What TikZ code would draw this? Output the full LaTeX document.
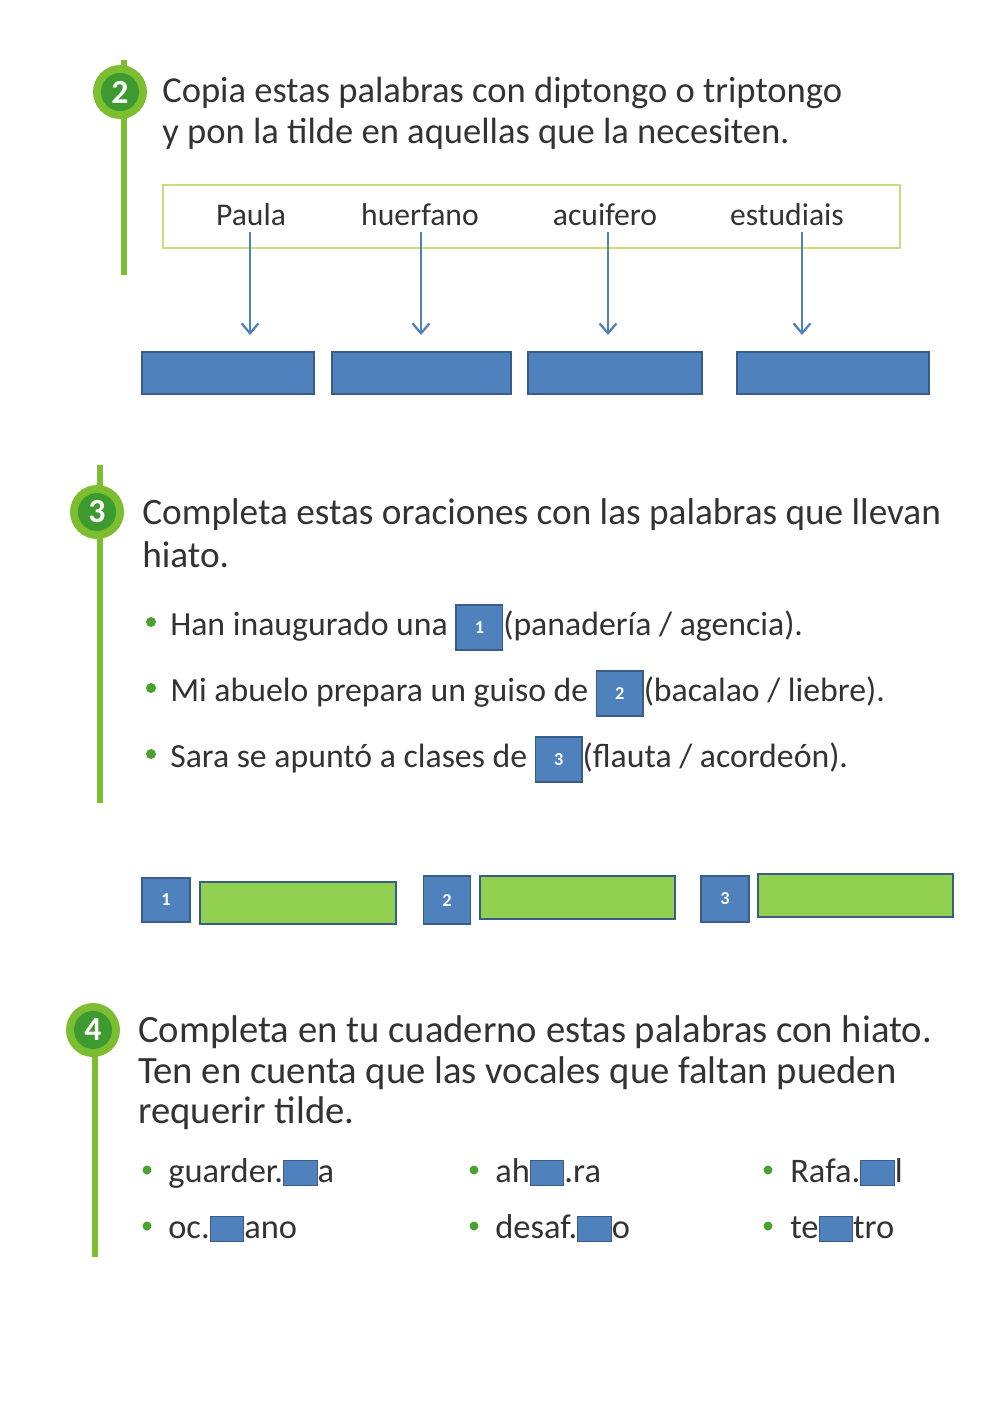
\documentclass[tikz,border=0pt]{standalone}
\usepackage{fontspec}
\setmainfont{Carlito}
\usetikzlibrary{positioning,arrows.meta}
\definecolor{leaf}{HTML}{7DBE31}
\definecolor{darkleaf}{HTML}{3C9A2F}
\definecolor{boxblue}{HTML}{4F81BD}
\definecolor{boxedge}{HTML}{385D8A}
\definecolor{fillgreen}{HTML}{92D050}
\definecolor{framegreen}{HTML}{C4E07A}
\definecolor{ink}{HTML}{333333}
\newcommand{\gap}{{\setlength\fboxsep{0pt}\setlength\fboxrule{0.8pt}\raisebox{-2pt}{\fcolorbox{boxedge}{boxblue}{\rule{0pt}{17pt}\hspace{23pt}}}}}
\newcommand{\numgap}[1]{{\setlength\fboxsep{0pt}\setlength\fboxrule{1pt}\raisebox{-1pt}{\fcolorbox{boxedge}{boxblue}{\parbox[c][31pt][c]{32pt}{\centering\color{white}\bfseries\fontsize{13}{13}\selectfont #1}}}}}
\tikzset{
  txt/.style={anchor=base west,inner sep=0pt,text=ink,font=\fontsize{#1}{28}\selectfont},
  txt/.default=24.5,
  word/.style={inner sep=0pt,text=ink,font=\fontsize{22.5}{26}\selectfont},
  bluebox/.style={draw=boxedge,fill=boxblue,line width=1pt},
  greenbox/.style={draw=boxedge,fill=fillgreen,line width=1pt},
  numbox/.style={bluebox,text=white,font=\bfseries\fontsize{13}{13}\selectfont},
  bar/.style={draw=leaf,line width=4.5pt},
  dot/.style={fill=darkleaf!80!leaf,draw=none},
  arr/.style={draw=boxblue,line width=1.6pt,-{Straight Barb[length=7pt,width=12pt]}}
}
\newcommand{\badge}[3]{%
  \fill[leaf] (#1,#2) circle (27);
  \fill[darkleaf] (#1,#2) circle (19);
  \node[text=white,font=\bfseries\fontsize{24}{24}\selectfont] at (#1,#2) {#3};}
\begin{document}
\begin{tikzpicture}[x=0.025cm,y=-0.025cm]
\useasboundingbox[fill=white] (0,0) rectangle (1000,1413);
% section 2
\draw[bar] (124,60) -- (124,275);
\badge{120}{92}{2}
\node[txt=26] (t2a) at (162,103) {Copia estas palabras con diptongo o triptongo};
\node[txt=26] (t2b) at (162,143) {y pon la tilde en aquellas que la necesiten.};
\draw[framegreen,line width=2pt] (163,185) rectangle (900,248);
\node[word] (paula) at (251,215) {Paula};
\node[word] (huerfano) at (420,215) {huerfano};
\node[word] (acuifero) at (605,215) {acuifero};
\node[word] (estudiais) at (787,215) {estudiais};
\coordinate (e1) at (250,335);
\coordinate (e2) at (421,335);
\coordinate (e3) at (608,335);
\coordinate (e4) at (802,335);
\draw[arr] (paula.south -| e1) ++(0,6) -- (e1);
\draw[arr] (huerfano.south -| e2) ++(0,6) -- (e2);
\draw[arr] (acuifero.south -| e3) ++(0,6) -- (e3);
\draw[arr] (estudiais.south -| e4) ++(0,6) -- (e4);
\draw[bluebox] (142,352) rectangle (314,394);
\draw[bluebox] (332,352) rectangle (511,394);
\draw[bluebox] (528,352) rectangle (702,394);
\draw[bluebox] (737,352) rectangle (929,394);
% section 3
\draw[bar] (100,465) -- (100,803);
\badge{97}{512}{3}
\node[txt=26.5] (t3a) at (142,524) {Completa estas oraciones con las palabras que llevan};
\node[txt=26.5] (t3b) at (142,567) {hiato.};
\foreach \y in {622,688,754} \fill[dot] (151,\y) circle (5);
\node[txt=24] (s1) at (170,635) {Han inaugurado una \numgap{1}(panadería / agencia).};
\node[txt=24] (s2) at (170,701) {Mi abuelo prepara un guiso de \numgap{2}(bacalao / liebre).};
\node[txt=24] (s3) at (170,767) {Sara se apuntó a clases de \numgap{3}(flauta / acordeón).};
\node[numbox,minimum width=48*0.025cm,minimum height=44*0.025cm] (n1) at (166,900) {1};
\draw[greenbox] (200,882) rectangle (396,924);
\node[numbox,minimum width=47*0.025cm,minimum height=48*0.025cm] (n2) at (447,900) {2};
\draw[greenbox] (480,876) rectangle (675,919);
\node[numbox,minimum width=48*0.025cm,minimum height=46*0.025cm] (n3) at (725,899) {3};
\draw[greenbox] (758,874) rectangle (953,917);
% section 4
\draw[bar] (95,1010) -- (95,1257);
\badge{93}{1030}{4}
\node[txt=27.5] (t4a) at (138,1042) {Completa en tu cuaderno estas palabras con hiato.};
\node[txt=27.5] (t4b) at (138,1083) {Ten en cuenta que las vocales que faltan pueden};
\node[txt=27.5] (t4c) at (138,1123) {requerir tilde.};
\foreach \x in {147,474,768} \foreach \y in {1170,1226} \fill[dot] (\x,\y) circle (4.5);
\node[txt] (w1) at (168,1182) {guarder.\gap a};
\node[txt] (w2) at (495,1182) {ah\gap.ra};
\node[txt] (w3) at (790,1182) {Rafa.\gap l};
\node[txt] (w4) at (168,1238) {oc.\gap ano};
\node[txt] (w5) at (495,1238) {desaf.\gap o};
\node[txt] (w6) at (790,1238) {te\gap tro};
\end{tikzpicture}
\end{document}
